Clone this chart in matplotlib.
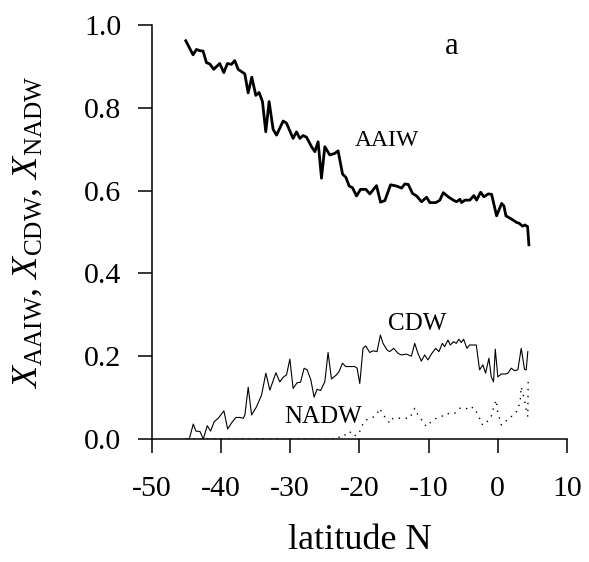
import numpy as np
import matplotlib
matplotlib.use("Agg")
import matplotlib.pyplot as plt

plt.rcParams['font.family'] = ['Liberation Serif', 'DejaVu Serif']
plt.rcParams['mathtext.fontset'] = 'custom'
plt.rcParams['mathtext.rm'] = 'Liberation Serif'
plt.rcParams['mathtext.it'] = 'Liberation Serif:italic'

# AAIW fraction vs latitude
aaiw_lat = [-45.08, -44.03, -43.54, -43.06, -42.58, -42.09, -41.61, -41.04, -40.17, -39.59,
            -39.06, -38.48, -38.0, -37.52, -36.55, -36.07, -35.54, -34.96, -34.48, -34.0,
            -33.52, -33.04, -32.46, -31.97, -31.01, -30.53, -29.57, -29.08, -28.6, -28.12,
            -27.63, -26.91, -26.43, -25.96, -25.47, -24.99, -24.27, -23.54, -23.07, -22.43,
            -21.95, -21.47, -20.99, -20.41, -19.83, -19.06, -18.48, -17.52, -16.94, -16.31,
            -15.49, -14.62, -13.9, -13.42, -12.94, -12.31, -11.73, -11.01, -10.29, -9.81,
            -8.94, -8.36, -7.88, -7.16, -6.44, -5.95, -5.47, -5.23, -4.75, -4.03,
            -3.45, -3.06, -2.48, -2.0, -1.38, -0.89, -0.17, 0.56, 0.89, 1.18,
            2.0, 2.73, 3.1, 3.59, 3.93, 4.31, 4.5]
aaiw_val = [0.962, 0.928, 0.941, 0.938, 0.937, 0.909, 0.906, 0.893, 0.907, 0.885,
            0.907, 0.905, 0.914, 0.893, 0.882, 0.836, 0.874, 0.830, 0.837, 0.815,
            0.742, 0.815, 0.748, 0.734, 0.768, 0.763, 0.726, 0.742, 0.726, 0.733,
            0.729, 0.706, 0.694, 0.718, 0.630, 0.706, 0.686, 0.690, 0.696, 0.640,
            0.632, 0.611, 0.607, 0.587, 0.603, 0.603, 0.592, 0.612, 0.572, 0.576,
            0.614, 0.611, 0.606, 0.616, 0.615, 0.593, 0.587, 0.573, 0.584, 0.571,
            0.571, 0.577, 0.595, 0.585, 0.577, 0.573, 0.579, 0.571, 0.577, 0.577,
            0.588, 0.577, 0.596, 0.585, 0.592, 0.591, 0.539, 0.569, 0.563, 0.539,
            0.531, 0.523, 0.521, 0.514, 0.517, 0.513, 0.469]

# CDW fraction vs latitude
cdw_lat = [-44.95, -44.57, -44.0, -43.61, -43.03, -42.55, -41.98, -41.49, -40.97, -40.39,
           -39.57, -39.03, -38.46, -37.84, -37.26, -36.78, -36.54, -36.06, -35.57, -34.85,
           -34.13, -33.51, -32.93, -32.06, -31.49, -31.01, -30.52, -30.04, -29.57, -28.99,
           -28.5, -27.98, -27.55, -27.01, -26.54, -26.1, -25.61, -24.99, -24.52, -24.03,
           -23.3, -22.93, -22.44, -21.96, -21.39, -20.66, -20.33, -19.94, -19.47, -19.08,
           -18.5, -18.02, -17.45, -16.96, -16.58, -16.0, -15.61, -15.04, -14.42, -13.93,
           -13.2, -12.48, -12.0, -11.53, -11.04, -10.56, -10.09, -9.6, -8.98, -8.5,
           -8.01, -7.68, -7.2, -6.86, -6.38, -5.99, -5.61, -5.27, -4.94, -4.46,
           -4.07, -3.1, -2.63, -2.15, -1.76, -1.28, -0.94, -0.61, -0.36, 0.01,
           0.51, 1.13, 1.46, 1.95, 2.42, 2.9, 3.39, 3.87, 4.11, 4.34]
cdw_val = [0.0, 0.0, 0.036, 0.019, 0.018, 0.0, 0.032, 0.019, 0.042, 0.050,
           0.068, 0.024, 0.039, 0.052, 0.052, 0.050, 0.058, 0.125, 0.058, 0.078,
           0.106, 0.159, 0.118, 0.160, 0.138, 0.149, 0.155, 0.193, 0.122, 0.136,
           0.137, 0.171, 0.167, 0.143, 0.101, 0.120, 0.117, 0.138, 0.209, 0.145,
           0.155, 0.163, 0.183, 0.175, 0.175, 0.175, 0.171, 0.134, 0.219, 0.225,
           0.209, 0.213, 0.211, 0.251, 0.231, 0.215, 0.211, 0.219, 0.207, 0.203,
           0.205, 0.200, 0.231, 0.207, 0.188, 0.203, 0.191, 0.205, 0.219, 0.211,
           0.231, 0.223, 0.239, 0.227, 0.235, 0.231, 0.241, 0.233, 0.241, 0.219,
           0.227, 0.227, 0.167, 0.179, 0.159, 0.195, 0.150, 0.138, 0.217, 0.150,
           0.157, 0.157, 0.159, 0.171, 0.165, 0.167, 0.219, 0.168, 0.167, 0.211]

# NADW fraction vs latitude
nadw_lat = [-45.0, -40.0, -35.0, -30.0, -25.0, -23.2,
            -22.58, -21.86, -21.39, -20.91, -20.19, -19.7, -19.47, -18.98, -18.25, -17.53,
            -17.05, -16.58, -16.1, -15.61, -15.14, -14.17, -13.45, -12.73, -12.0, -11.53,
            -10.81, -10.32, -9.6, -8.87, -8.15, -7.43, -6.71, -6.23, -5.51, -4.79,
            -4.07, -3.59, -3.1, -2.63, -2.38, -1.9, -1.43, -0.94, -0.71, -0.46,
            -0.22, 0.01, 0.26, 0.51, 0.98, 1.46, 1.95, 2.42, 2.9, 3.25,
            3.39, 3.63, 3.87, 4.11, 4.34, 4.4]
nadw_val = [0.0, 0.0, 0.0, 0.0, 0.0, 0.0,
            0.010, 0.010, 0.018, 0.007, 0.010, 0.026, 0.038, 0.046, 0.050, 0.058,
            0.074, 0.058, 0.050, 0.038, 0.050, 0.050, 0.050, 0.050, 0.074, 0.058,
            0.042, 0.030, 0.042, 0.050, 0.054, 0.062, 0.060, 0.062, 0.074, 0.076,
            0.070, 0.077, 0.066, 0.050, 0.036, 0.034, 0.044, 0.054, 0.070, 0.082,
            0.094, 0.062, 0.050, 0.034, 0.038, 0.050, 0.054, 0.060, 0.070, 0.094,
            0.126, 0.110, 0.094, 0.070, 0.054, 0.150]

x_ticks = [-50, -40, -30, -20, -10, 0, 10]
y_ticks = [0.0, 0.2, 0.4, 0.6, 0.8, 1.0]

dpi = 100
fig = plt.figure(figsize=(589 / dpi, 562 / dpi), dpi=dpi)
ax = fig.add_axes([0.2576, 0.2189, 0.705, 0.7366])

ax.plot(aaiw_lat, aaiw_val, color='black', lw=2.0)
ax.plot(cdw_lat, cdw_val, color='black', lw=0.8)
ax.plot(nadw_lat, nadw_val, color='black', lw=1.0, linestyle=(0, (1, 4)))

ax.set_xlim(-50, 10)
ax.set_ylim(0, 1)
ax.set_xticks(x_ticks)
ax.set_xticklabels([str(t) for t in x_ticks])
ax.set_yticks(y_ticks)
ax.set_yticklabels([f"{t:.1f}" for t in y_ticks])

for side in ['top', 'right']:
    ax.spines[side].set_visible(False)
for side in ['left', 'bottom']:
    ax.spines[side].set_linewidth(1.1)
ax.tick_params(direction='out', length=10, width=1.1, labelsize=21.5)
ax.tick_params(axis='x', pad=17)
ax.tick_params(axis='y', pad=12)

ax.text(-6.7, 0.947, 'a', fontsize=22, ha='center', va='center')
ax.text(-16.0, 0.72, 'AAIW', fontsize=17, ha='center', va='center')
ax.text(-11.6, 0.278, 'CDW', fontsize=18, ha='center', va='center')
ax.text(-25.3, 0.054, 'NADW', fontsize=18, ha='center', va='center')

ax.set_xlabel('latitude N', fontsize=26)
ax.xaxis.set_label_coords(0.5, -0.205)
ax.set_ylabel(r'$X_{\mathrm{AAIW}}$, $X_{\mathrm{CDW}}$, $X_{\mathrm{NADW}}$',
              fontsize=26)
ax.yaxis.set_label_coords(-0.257, 0.5)

plt.savefig('out.png', dpi=dpi)
